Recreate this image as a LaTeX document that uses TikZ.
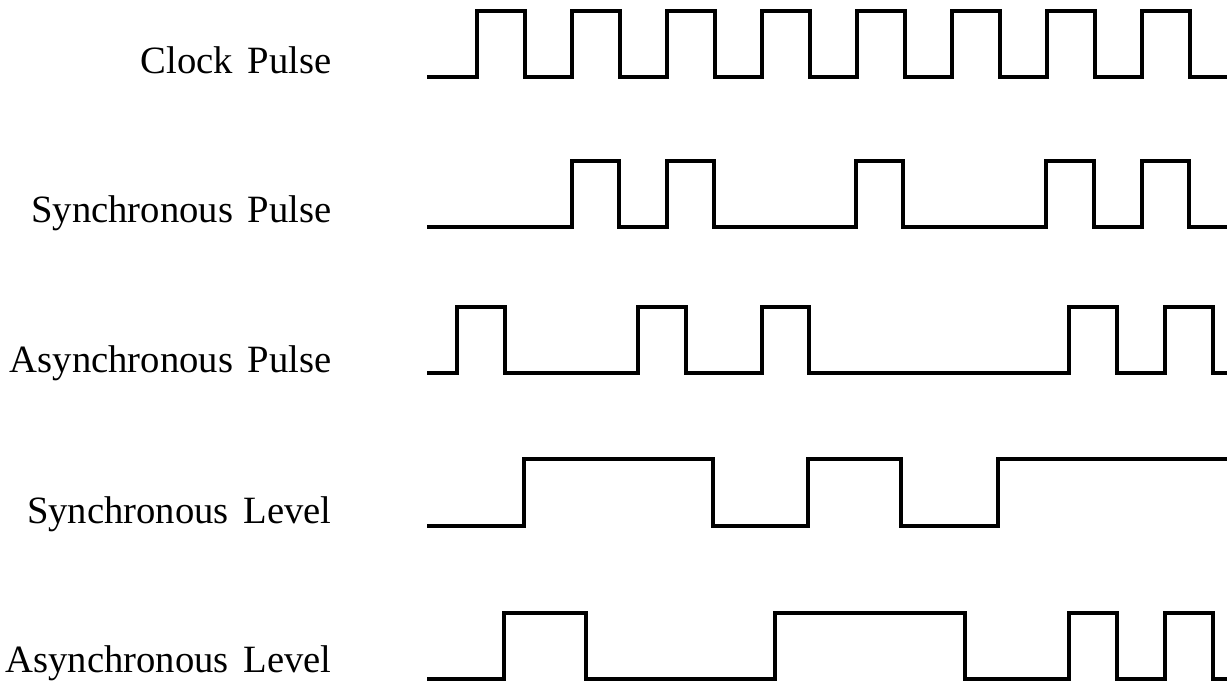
\documentclass[tikz,border=0pt]{standalone}
\usepackage{fontspec}
\setmainfont{Liberation Serif}
\usepackage{tikz}
\usetikzlibrary{positioning}
\newcommand{\sigfont}{\fontsize{22}{26}\selectfont\setlength{\spaceskip}{0.38em}}

\begin{document}
\begin{tikzpicture}[
    x=0.02cm, y=-0.02cm,
    wave/.style={line width=1.9pt, line join=miter},
    sig/.style={anchor=base east, inner sep=0pt, font=\sigfont}
]
  \useasboundingbox (0,0) rectangle (1227,682);

  % Signal names
  \node[sig] (clk)   at (332,74)  {Clock Pulse};
  \node[sig] (spuls) at (332,223) {Synchronous Pulse};
  \node[sig] (apuls) at (332,372) {Asynchronous Pulse};
  \node[sig] (slev)  at (332,523) {Synchronous Level};
  \node[sig] (alev)  at (332,672) {Asynchronous Level};

  % Clock
  \draw[wave] (427,77) \foreach \k in {0,...,7} { -| ({477+95*\k},11) -| ({525+95*\k},77) } -- (1227,77);

  % Synchronous pulse
  \draw[wave] (427,227) -| (572,161) -| (619,227) -| (667,161) -| (714,227)
    -| (856,161) -| (903,227) -| (1046,161) -| (1094,227) -| (1142,161) -| (1189,227) -- (1227,227);

  % Asynchronous pulse
  \draw[wave] (427,373) -| (457,307) -| (505,373) -| (638,307) -| (686,373) -| (762,307) -| (809,373)
    -| (1069,307) -| (1117,373) -| (1165,307) -| (1213,373) -- (1227,373);

  % Synchronous level
  \draw[wave] (427,526) -| (524,459) -| (713,526) -| (808,459) -| (901,526) -| (998,459) -- (1227,459);

  % Asynchronous level
  \draw[wave] (427,679) -| (504,613) -| (586,679) -| (775,613) -| (965,679)
    -| (1069,613) -| (1117,679) -| (1165,613) -| (1213,679) -- (1227,679);
\end{tikzpicture}
\end{document}
